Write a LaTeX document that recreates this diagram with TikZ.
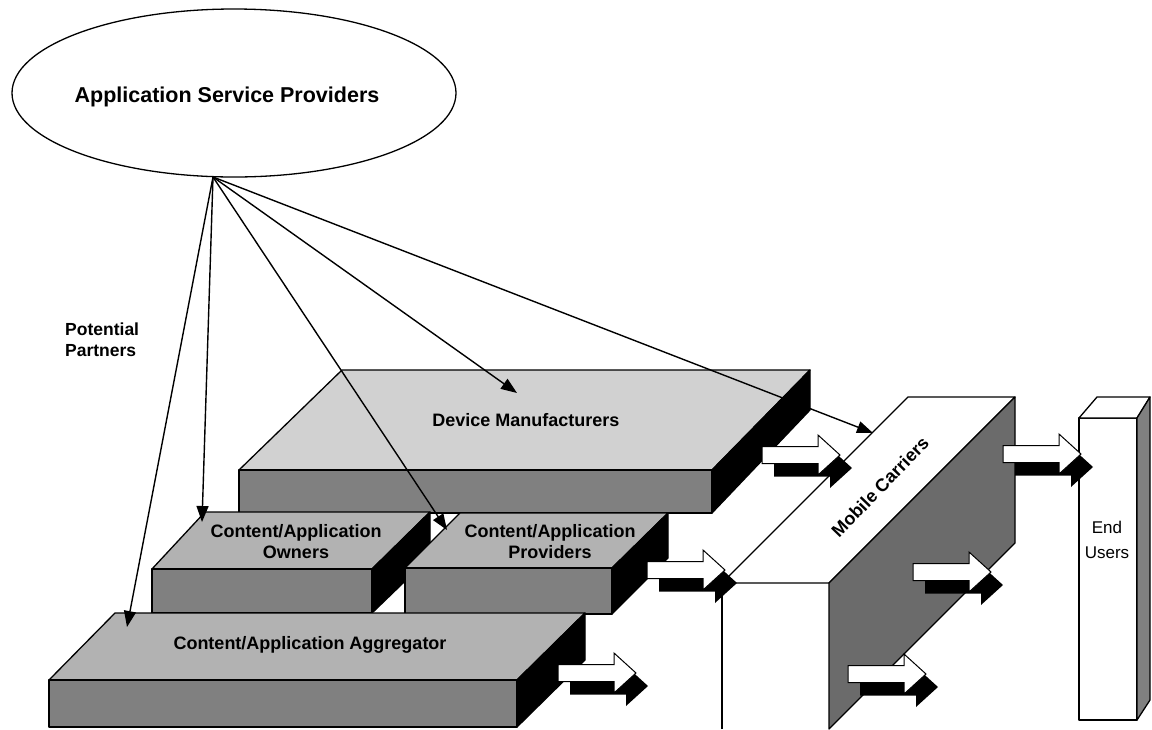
\documentclass[tikz,border=0pt]{standalone}
\usepackage{fontspec}
\setmainfont{Liberation Sans}
\usetikzlibrary{arrows.meta,shapes.geometric}
\tikzset{
  blockarrow/.pic={
    \fill[black,shift={(12,13)}] (0,-8.5) -- (56,-8.5) -- (56,-20) -- (78,0) -- (56,20) -- (56,8.5) -- (0,8.5) -- cycle;
    \draw[fill=white,line width=1pt] (0,-8.5) -- (56,-8.5) -- (56,-20) -- (78,0) -- (56,20) -- (56,8.5) -- (0,8.5) -- cycle;
  }
}
\begin{document}
\begin{tikzpicture}[x=1pt,y=-1pt,
  lightface/.style={fill=black!18,draw=black,line width=1.3pt,line join=round},
  midface/.style={fill=black!30,draw=black,line width=1.3pt,line join=round},
  darkface/.style={fill=black!50,draw=black,line width=1.3pt,line join=round},
  deepface/.style={fill=black!58,draw=black,line width=1.3pt,line join=round},
  blackface/.style={fill=black,draw=black,line width=1.3pt,line join=round},
  whiteface/.style={fill=white,draw=black,line width=1.3pt,line join=round},
  conn/.style={line width=1.4pt,-{Triangle[length=16pt,width=12pt]}},
  lbl/.style={font=\bfseries\fontsize{18}{21}\selectfont,align=center,inner sep=0pt}]
\useasboundingbox[fill=white] (0,0) rectangle (1152,729);

% Application Service Providers
\node[ellipse,draw,line width=1.3pt,minimum width=444pt,minimum height=168pt,inner sep=0pt] (asp) at (234,93) {};
\node[font=\bfseries\fontsize{21.5}{24}\selectfont,inner sep=0pt] (asptext) at (227,97) {Application Service Providers};
\coordinate (apex) at (213,177);

% Device Manufacturers slab
\draw[lightface] (342,370) -- (810,370) -- (712,470) -- (239,470) -- cycle;
\draw[darkface] (239,470) rectangle (712,513);
\draw[blackface] (712,470) -- (810,370) -- (810,410) -- (712,513) -- cycle;

% Owners slab
\draw[midface] (205,512) -- (430,512) -- (372,569) -- (152,569) -- cycle;
\draw[darkface] (152,569) rectangle (372,613);
\draw[blackface] (372,569) -- (430,512) -- (430,557) -- (372,613) -- cycle;

% Providers slab
\draw[midface] (460,513) -- (668,513) -- (612,568) -- (405,568) -- cycle;
\draw[darkface] (405,568) rectangle (612,614);
\draw[blackface] (612,568) -- (668,513) -- (668,558) -- (612,614) -- cycle;

% Aggregator slab
\draw[midface] (115,613) -- (585,613) -- (517,680) -- (49,680) -- cycle;
\draw[darkface] (49,680) rectangle (517,727);
\draw[blackface] (517,680) -- (585,613) -- (585,660) -- (517,727) -- cycle;

% Mobile Carriers
\draw[line width=1.3pt] (722,729) -- (722,583);
\draw[whiteface] (722,583) -- (908,397) -- (1015,397) -- (829,583) -- cycle;
\draw[deepface] (829,583) -- (1015,397) -- (1015,543) -- (829,729) -- cycle;

% End Users
\draw[whiteface] (1079,418) rectangle (1137,720);
\draw[whiteface] (1079,418) -- (1097,397) -- (1150,397) -- (1137,418) -- cycle;
\draw[darkface] (1137,418) -- (1150,397) -- (1150,700) -- (1137,720) -- cycle;

% block arrows
\pic at (762,455) {blockarrow};
\pic at (647,570) {blockarrow};
\pic at (558,673) {blockarrow};
\pic at (913,572) {blockarrow};
\pic at (848,674) {blockarrow};
\pic at (1003,454) {blockarrow};

% labels
\node[lbl] (dm) at (526,420) {Device Manufacturers};
\node[lbl] (own) at (296,542) {Content/Application\\Owners};
\node[lbl] (prov) at (550,542) {Content/Application\\Providers};
\node[lbl] (agg) at (310,645) {Content/Application Aggregator};
\node[lbl,rotate=46] (mc) at (880,487) {Mobile Carriers};
\node[font=\fontsize{17}{25}\selectfont,align=center,inner sep=0pt] (eu) at (1107,540) {End\\Users};
\node[font=\bfseries\fontsize{17.5}{21}\selectfont,align=left,anchor=west,inner sep=0pt] (pp) at (65,340) {Potential\\Partners};

% connectors
\coordinate (tagg) at (127,627);
\coordinate (town) at (202,522);
\coordinate (tprov) at (447,530);
\coordinate (tdm) at (517,393);
\coordinate (tmc) at (873,433);
\draw[conn] (apex) -- (tagg);
\draw[conn] (apex) -- (town);
\draw[conn] (apex) -- (tprov);
\draw[conn] (apex) -- (tdm);
\draw[conn] (apex) -- (tmc);
\end{tikzpicture}
\end{document}
